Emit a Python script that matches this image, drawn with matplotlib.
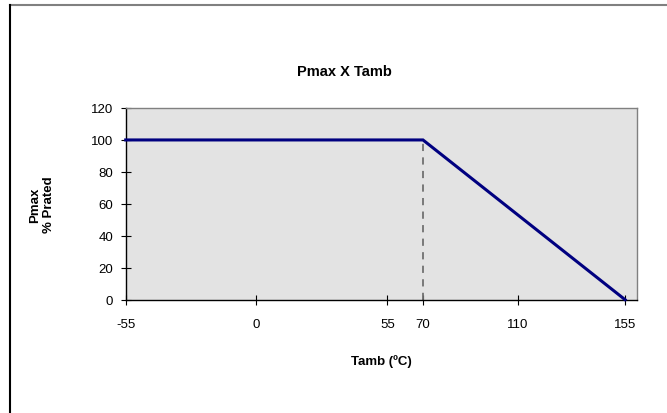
import matplotlib
matplotlib.use("Agg")
import matplotlib.pyplot as plt
from matplotlib.lines import Line2D

plt.rcParams['font.family'] = ['Liberation Sans', 'DejaVu Sans']
plt.rcParams['axes.unicode_minus'] = False

# Data
temps = [-55, 70, 155]
pmax = [100, 100, 0]
knee_x = [70, 70]
knee_y = [0, 100]
x_ticks = [-55, 0, 55, 70, 110, 155]
y_ticks = [0, 20, 40, 60, 80, 100, 120]

W, H = 667, 414
fig = plt.figure(figsize=(W / 100, H / 100), dpi=100)
fig.patch.set_facecolor('white')

left, right, top, bottom = 125.7, 637, 109, 300.7
ax = fig.add_axes([left / W, 1 - bottom / H, (right - left) / W, (bottom - top) / H])
ax.set_facecolor('#e3e3e3')

ax.plot(knee_x, knee_y, color='#707070', lw=1.3, dashes=(4, 3.5), zorder=2)
ax.plot(temps, pmax, color='#000080', lw=2.2, zorder=3, clip_on=False,
        solid_joinstyle='miter')

ax.set_xlim(-55, 160)
ax.set_ylim(0, 120)
ax.set_xticks(x_ticks)
ax.set_yticks(y_ticks)
ax.tick_params(axis='both', direction='inout', length=7, width=0.8, colors='black',
               labelsize=9.5)
ax.tick_params(axis='y', pad=5.5)
ax.tick_params(axis='x', pad=10)

for s in ['left', 'bottom']:
    ax.spines[s].set_color('black')
    ax.spines[s].set_linewidth(1.0)
for s in ['top', 'right']:
    ax.spines[s].set_color('#808080')
    ax.spines[s].set_linewidth(1.0)

fig.text(344 / W, 1 - 72 / H, 'Pmax X Tamb', ha='center', va='center',
         fontsize=10.5, fontweight='bold')
fig.text(381 / W, 1 - 362 / H, 'Tamb (ºC)', ha='center', va='center',
         fontsize=9.5, fontweight='bold')
fig.text(42 / W, 1 - 205 / H, 'Pmax\n% Prated', ha='center', va='center',
         fontsize=9.5, fontweight='bold', rotation=90, linespacing=1.25,
         multialignment='center')

# chart-area border (cropped)
fig.add_artist(Line2D([10 / W, 1], [1 - 5.5 / H, 1 - 5.5 / H], color='#808080', lw=1.5,
                      transform=fig.transFigure))
fig.add_artist(Line2D([10 / W, 10 / W], [0, 1 - 5.5 / H], color='black', lw=1.5,
                      transform=fig.transFigure))

fig.savefig('out.png', dpi=100)
